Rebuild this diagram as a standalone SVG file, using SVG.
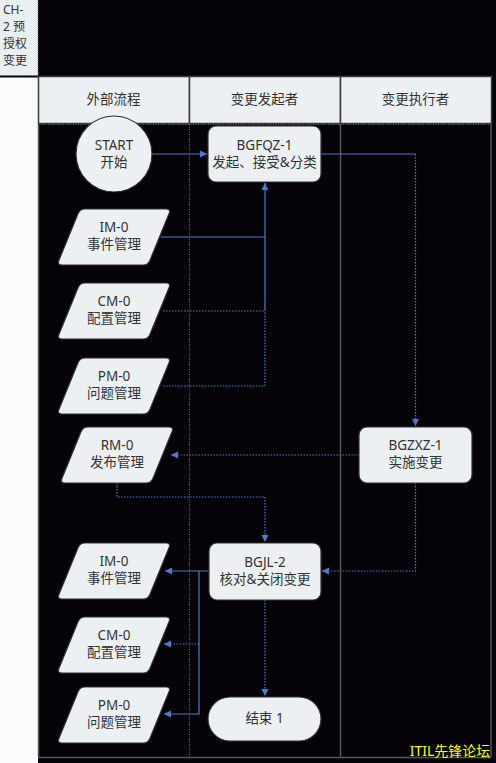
<svg xmlns="http://www.w3.org/2000/svg" width="496" height="763" viewBox="0 0 496 763">
<style>
text{font-family:"Noto Sans","Noto Sans CJK SC",sans-serif;font-size:13.5px;fill:#333;text-anchor:middle}
.pl{font-size:12px;text-anchor:start}
.node{fill:#ecf0f3;stroke:#333;stroke-width:1.2}
.hdr{fill:#ecf0f3;stroke:#3a3a3a;stroke-width:1.5}
.c{fill:none;stroke:#4a7cc8;stroke-width:1.2}
.d{stroke-dasharray:1.5 1.5}
.lane{stroke:#555;stroke-width:1.5;fill:none}
.lane-d{stroke:#666;stroke-width:1;stroke-dasharray:1 1.5;fill:none}
</style>
<defs>
<marker id="ah" markerWidth="8" markerHeight="8" refX="7" refY="4" orient="auto" markerUnits="userSpaceOnUse">
<path d="M0,0.5 L7,4 L0,7.5 Z" fill="#4a7cc8"/>
</marker>
<path id="para" d="M28,0 H109 Q114,0 112.1,4.6 L92.9,51.4 Q91,56 86,56 H5 Q0,56 1.9,51.4 L21.1,4.6 Q23,0 28,0 Z"/>
</defs>
<rect x="0" y="0" width="496" height="763" fill="#050308"/>
<g id="pool-label">
<rect x="0" y="0" width="38" height="76" fill="#e8eef2"/>
<line x1="38" y1="0" x2="38" y2="76" stroke="#777" stroke-width="1" stroke-dasharray="1 1"/>
<text class="pl" x="3" y="14">CH-</text>
<text class="pl" x="3" y="31">2 预</text>
<text class="pl" x="3" y="48">授权</text>
<text class="pl" x="3" y="65">变更</text>
</g>
<rect x="0" y="77" width="38" height="686" fill="#fbfcfc"/>
<line x1="0" y1="76.5" x2="38" y2="76.5" stroke="#050308" stroke-width="2"/>
<g id="lanes">
<rect class="hdr" x="38.5" y="76.5" width="151" height="47"/>
<rect class="hdr" x="189.5" y="76.5" width="151" height="47"/>
<rect class="hdr" x="340.5" y="76.5" width="151" height="47"/>
<text x="113.5" y="104">外部流程</text>
<text x="264.5" y="104">变更发起者</text>
<text x="415.5" y="104">变更执行者</text>
<line class="lane-d" x1="38" y1="124.5" x2="491" y2="124.5"/>
<line class="lane" x1="38.5" y1="124" x2="38.5" y2="757"/>
<line class="lane-d" x1="189.5" y1="124" x2="189.5" y2="757"/>
<line class="lane" x1="340.5" y1="124" x2="340.5" y2="757"/>
<line class="lane" x1="491" y1="124" x2="491" y2="757"/>
<line class="lane" x1="38" y1="757.5" x2="491" y2="757.5"/>
</g>
<g id="connectors">
<path class="c" d="M152,154 H207" marker-end="url(#ah)"/>
<path class="c" d="M321,154 H415.5"/>
<path class="c d" d="M415.5,154 V426" marker-end="url(#ah)"/>
<path class="c" d="M161,237 H265 V183" marker-end="url(#ah)"/>
<path class="c d" d="M163,311 H265"/>
<path class="c" d="M265,311 V237"/>
<path class="c d" d="M163,386 H265 V311"/>
<path class="c d" d="M359,455 H171" marker-end="url(#ah)"/>
<path class="c d" d="M117,483 V497 H265 V542" marker-end="url(#ah)"/>
<path class="c d" d="M415.5,483 V571 H322" marker-end="url(#ah)"/>
<path class="c" d="M209,571 H165" marker-end="url(#ah)"/>
<path class="c" d="M199,571 V714 H164" marker-end="url(#ah)"/>
<path class="c d" d="M199,644 H164" marker-end="url(#ah)"/>
<path class="c d" d="M265,600 V696" marker-end="url(#ah)"/>
</g>
<g id="start">
<circle class="node" cx="114" cy="154" r="38"/>
<text x="114" y="150">START</text>
<text x="114" y="167">开始</text>
</g>
<g id="bgfqz1">
<rect class="node" x="208" y="126" width="113" height="56" rx="8"/>
<text x="264.5" y="150">BGFQZ-1</text>
<text x="264.5" y="167">发起、接受&amp;分类</text>
</g>
<g id="im0-a">
<use href="#para" class="node" x="57" y="209"/>
<text x="114" y="232">IM-0</text>
<text x="114" y="249">事件管理</text>
</g>
<g id="cm0-a">
<use href="#para" class="node" x="57" y="283"/>
<text x="114" y="306">CM-0</text>
<text x="114" y="323">配置管理</text>
</g>
<g id="pm0-a">
<use href="#para" class="node" x="57" y="358"/>
<text x="114" y="381">PM-0</text>
<text x="114" y="398">问题管理</text>
</g>
<g id="rm0">
<use href="#para" class="node" x="60" y="427"/>
<text x="117" y="450">RM-0</text>
<text x="117" y="467">发布管理</text>
</g>
<g id="bgzxz1">
<rect class="node" x="359" y="427" width="113" height="56" rx="8"/>
<text x="415.5" y="450">BGZXZ-1</text>
<text x="415.5" y="467">实施变更</text>
</g>
<g id="bgjl2">
<rect class="node" x="209" y="543" width="112" height="57" rx="8"/>
<text x="265" y="567">BGJL-2</text>
<text x="265" y="584">核对&amp;关闭变更</text>
</g>
<g id="im0-b">
<use href="#para" class="node" x="57" y="543"/>
<text x="114" y="566">IM-0</text>
<text x="114" y="583">事件管理</text>
</g>
<g id="cm0-b">
<use href="#para" class="node" x="57" y="617"/>
<text x="114" y="640">CM-0</text>
<text x="114" y="657">配置管理</text>
</g>
<g id="pm0-b">
<use href="#para" class="node" x="57" y="687"/>
<text x="114" y="710">PM-0</text>
<text x="114" y="727">问题管理</text>
</g>
<g id="end1">
<rect class="node" x="208" y="697" width="113" height="44" rx="22"/>
<text x="264.5" y="723">结束 1</text>
</g>
<text x="450" y="756" style="fill:#ffff00;font-size:14px">ITIL先锋论坛</text>
</svg>
